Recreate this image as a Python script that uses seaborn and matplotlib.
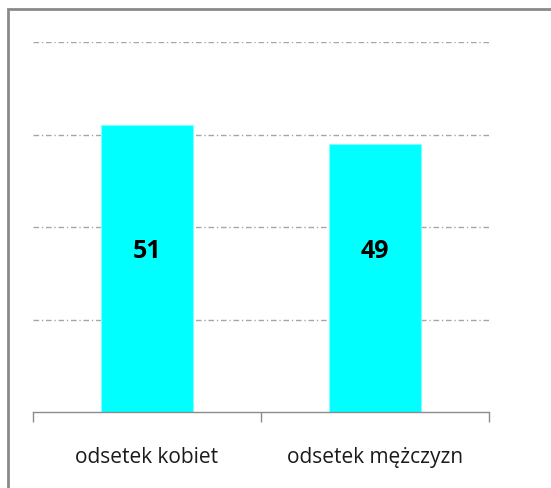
import matplotlib
matplotlib.use("Agg")
import matplotlib.pyplot as plt
import seaborn as sns
import pandas as pd
from matplotlib.patches import Rectangle

# dane
categories = ["odsetek kobiet", "odsetek mężczyzn"]
values = [51, 49]
y_min, y_max, y_step = 20, 60, 10

df = pd.DataFrame({"grupa": categories, "wartosc": values})

sns.set_theme(style="white")
plt.rcParams['font.family'] = ['Open Sans', 'DejaVu Sans']

fig = plt.figure(figsize=(5.51, 4.88), dpi=100)
ax = fig.add_axes([33 / 551, 76 / 488, 456 / 551, 370 / 488])

sns.barplot(data=df, x="grupa", y="wartosc", color="#00FFFF", width=0.4,
            saturation=1, edgecolor="#7fffff", linewidth=0.8, ax=ax)

ax.set_ylim(y_min, y_max)
ax.set_yticks(range(y_min + y_step, y_max + 1, y_step))
ax.set_yticklabels([])
ax.tick_params(axis="y", length=0)
ax.grid(axis="y", color="#a6a6a6", linestyle=(0, (4, 2, 1, 2)), linewidth=1)
ax.set_axisbelow(True)

for side in ["left", "right", "top"]:
    ax.spines[side].set_visible(False)
ax.spines["bottom"].set_color("#8c8c8c")
ax.spines["bottom"].set_linewidth(1)

# ticks between categories, like Excel
ax.set_xlim(-0.5, 1.5)
ax.set_xticks([-0.5, 0.5, 1.5], minor=True)
ax.tick_params(axis="x", which="minor", bottom=True, length=7, color="#8c8c8c",
               width=1, direction="out")
ax.tick_params(axis="x", which="major", length=0, pad=25, labelsize=15, labelcolor="#1a1a1a")
ax.set_xlabel("")
ax.set_ylabel("")

# etykiety wartości
for i, v in enumerate(values):
    ax.text(i, 37.3, str(v), ha="center", va="center", fontsize=18,
            fontweight="bold", color="black")

# ramka wykresu
fig.patches.append(Rectangle((8 / 551, -0.1), 1.2, (488 - 9) / 488 + 0.1,
                             transform=fig.transFigure, fill=False,
                             edgecolor="#8a8a8a", linewidth=2))

fig.savefig("out.png", dpi=100)
